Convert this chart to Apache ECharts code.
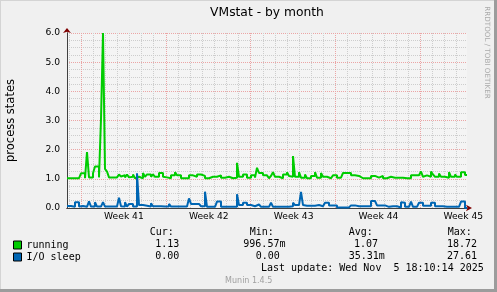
<!DOCTYPE html>
<html><head><meta charset="utf-8">
<script src="https://cdn.jsdelivr.net/npm/echarts@6/dist/echarts.min.js"></script>
<style>html,body{margin:0;padding:0;background:#F0F0F0}#c{width:497px;height:292px}</style>
</head><body><div id="c"></div>
<script>
// ---- data ----
const spanHours = 792; // 33 days shown
const running = [
1.02,1.02,1.02,1.02,1.02,1.02,1.02,1.19,1.19,1.02,
1.92,1.05,1.05,1.19,1.42,1.42,1.05,3.05,6.0,1.34,
1.25,1.05,1.05,1.02,1.05,1.02,1.15,1.08,1.12,1.05,
1.15,1.05,1.07,1.15,1.02,1.07,1.02,1.02,1.2,1.07,
1.15,1.15,1.07,1.15,1.07,1.07,1.2,1.2,1.07,1.05,
1.05,1.02,1.12,1.12,1.23,1.12,1.12,1.02,1.02,1.02,
1.02,1.12,1.12,1.07,1.07,1.15,1.15,1.1,1.1,1.02,
1.02,1.02,1.07,1.07,1.07,1.12,1.12,1.04,1.04,1.04,
1.07,1.04,1.02,1.04,1.04,1.55,1.07,1.07,1.15,1.15,
1.04,1.04,1.12,1.12,1.04,1.38,1.2,1.2,1.12,1.12,
1.15,1.02,1.1,1.23,1.07,1.07,1.02,1.02,1.15,1.15,
1.23,1.1,1.07,1.78,1.07,1.07,1.23,1.04,1.04,1.15,
1.02,1.02,1.1,1.1,1.23,1.04,1.04,1.2,1.07,1.07,
1.02,1.02,1.02,1.12,1.12,1.04,1.04,1.04,1.2,1.2,
1.2,1.2,1.12,1.12,1.1,1.1,1.04,1.02,1.02,1.02,
1.02,1.02,1.1,1.1,1.1,1.04,1.1,1.1,1.02,1.02,
1.02,1.07,1.04,1.04,1.04,1.04,1.04,1.04,1.02,1.02,
1.02,1.02,1.12,1.12,1.12,1.12,1.12,1.25,1.07,1.12,
1.12,1.07,1.25,1.15,1.07,1.07,1.18,1.07,1.07,1.04,
1.04,1.23,1.07,1.07,1.15,1.07,1.07,1.23,1.23,1.13
];
const ioSleep = [
0.07,0.07,0.07,0.04,0.2,0.2,0.05,0.07,0.04,0.04,
0.04,0.23,0.05,0.05,0.2,0.05,0.05,0.05,0.2,0.05,
0.05,0.07,0.05,0.04,0.05,0.06,0.35,0.06,0.05,0.2,
0.05,0.14,0.14,0.05,0.05,1.19,0.1,0.1,0.08,0.08,
0.08,0.05,0.16,0.06,0.06,0.06,0.06,0.06,0.05,0.05,
0.05,0.14,0.05,0.05,0.05,0.05,0.05,0.05,0.05,0.05,
0.06,0.33,0.14,0.14,0.14,0.14,0.18,0.06,0.06,0.56,
0.04,0.04,0.04,0.04,0.04,0.22,0.22,0.04,0.04,0.04,
0.04,0.1,0.04,0.04,0.04,0.47,0.1,0.1,0.18,0.18,
0.1,0.1,0.06,0.06,0.06,0.12,0.12,0.04,0.04,0.04,
0.04,0.04,0.18,0.04,0.04,0.04,0.04,0.04,0.04,0.04,
0.04,0.06,0.06,0.18,0.1,0.1,0.1,0.55,0.1,0.08,
0.1,0.08,0.1,0.08,0.09,0.1,0.08,0.06,0.06,0.18,
0.18,0.09,0.09,0.09,0.09,0.02,0.02,0.02,0.02,0.02,
0.02,0.02,0.09,0.09,0.12,0.06,0.06,0.06,0.06,0.06,
0.06,0.06,0.24,0.24,0.24,0.09,0.09,0.09,0.09,0.04,
0.04,0.04,0.06,0.06,0.06,0.02,0.02,0.2,0.18,0.04,
0.04,0.04,0.22,0.04,0.04,0.04,0.18,0.18,0.08,0.08,
0.08,0.08,0.18,0.18,0.06,0.06,0.06,0.06,0.06,0.04,
0.04,0.04,0.04,0.04,0.04,0.04,0.04,0.22,0.22,0.0
];
const weekLabels = ['Week 41','Week 42','Week 43','Week 44','Week 45'];
const weekStartHours = [27.7, 195.7, 363.7, 531.7, 699.7];
const seriesNames = ['running','I/O sleep'];
const statHeaders = ['Cur:','Min:','Avg:','Max:'];
const runningStats = ['1.13','996.57m','1.07','18.72'];
const ioSleepStats = ['0.00','0.00','35.31m','27.61'];
const lastUpdate = 'Last update: Wed Nov  5 18:10:14 2025';
const titleText = 'VMstat - by month';
const yName = 'process states';
const sideText = 'RRDTOOL / TOBI OETIKER';
const footer = 'Munin 1.4.5';

// ---- build ----
function toXY(arr){
  const slot = spanHours / arr.length;
  const d = arr.map((v,i)=>[i*slot, v]);
  d.push([spanHours, arr[arr.length-1]]);
  return d;
}
const labelHours = weekStartHours.map(h => h + 85);
const dayHours = [];
for (let h = weekStartHours[0] - 24; h < spanHours; h += 24) if (h > 0) dayHours.push(h);

const SANS = 'DejaVu Sans', MONO = 'DejaVu Sans Mono';
const gridMinor = '#CDCDCD', gridMajor = '#EBA5A5';

const chart = echarts.init(document.getElementById('c'), null, {renderer:'canvas'});
const colX = [149.7, 249.7, 348.7, 447.7];
const valX1 = [155.3, 243.3, 354, 447];
const valX2 = [155.3, 255.7, 348.7, 447];
const graphics = [
  {type:'rect', shape:{x:0,y:0,width:497,height:1}, style:{fill:'#D4D4D4'}, silent:true},
  {type:'rect', shape:{x:0,y:0,width:1,height:292}, style:{fill:'#D4D4D4'}, silent:true},
  {type:'rect', shape:{x:494,y:0,width:3,height:292}, style:{fill:'#9C9C9C'}, silent:true},
  {type:'rect', shape:{x:0,y:289,width:497,height:3}, style:{fill:'#9C9C9C'}, silent:true},
  {type:'text', x:267, y:12.5, style:{text:titleText, font:'12.3px "'+SANS+'"', fill:'#000', textAlign:'center', textVerticalAlign:'middle'}},
  {type:'text', x:487, y:52.5, rotation:-Math.PI/2, style:{text:sideText, font:'7.2px "'+SANS+'"', fill:'#AAAAAA', textAlign:'center', textVerticalAlign:'middle'}},
  {type:'text', x:261, y:268.7, style:{text:lastUpdate, font:'10px "'+MONO+'"', fill:'#000', textVerticalAlign:'middle'}},
  {type:'text', x:248.7, y:281.3, style:{text:footer, font:'8px "'+SANS+'"', fill:'#A0A0A0', textAlign:'center', textVerticalAlign:'middle'}}
];
statHeaders.forEach((t,k)=>graphics.push({type:'text', x:colX[k], y:232.3, style:{text:t, font:'10px "'+MONO+'"', fill:'#000', textVerticalAlign:'middle'}}));
runningStats.forEach((t,k)=>graphics.push({type:'text', x:valX1[k], y:244.7, style:{text:t, font:'10px "'+MONO+'"', fill:'#000', textVerticalAlign:'middle'}}));
ioSleepStats.forEach((t,k)=>graphics.push({type:'text', x:valX2[k], y:256.7, style:{text:t, font:'10px "'+MONO+'"', fill:'#000', textVerticalAlign:'middle'}}));

const gridLines = dayHours.map(h=>({xAxis:h, lineStyle:{color:gridMinor, type:[1,1], width:1}}))
  .concat(weekStartHours.map(h=>({xAxis:h, lineStyle:{color:gridMajor, type:[1,1], width:1}})));

chart.setOption({
  animation:false,
  backgroundColor:'#F0F0F0',
  grid:{left:67, right:30, top:33, bottom:84, show:true, backgroundColor:'#F4F4F4', borderWidth:0,
        containLabel:false, outerBoundsMode:'none'},
  xAxis:[
    {type:'value', min:0, max:spanHours, z:3,
     axisLine:{show:true, lineStyle:{color:'#404040', width:1}},
     axisTick:{show:false}, splitLine:{show:false},
     axisLabel:{customValues:labelHours, margin:4, fontFamily:SANS, fontSize:9.2, color:'#000',
       formatter:v=>{const k=labelHours.findIndex(h=>Math.abs(h-v)<1); return k>=0?weekLabels[k]:'';}}},
    {type:'value', min:0, max:spanHours, position:'bottom', z:2,
     axisLine:{show:true, symbol:['none','arrow'], symbolSize:[5,6], symbolOffset:[0,5], lineStyle:{color:'#7F0000', width:1}},
     axisTick:{show:false}, axisLabel:{show:false}, splitLine:{show:false}}
  ],
  yAxis:[
    {type:'value', min:0, max:6, interval:1, z:3, position:'left',
     name:yName, nameLocation:'middle', nameGap:50, nameRotate:90,
     nameTextStyle:{fontFamily:SANS, fontSize:11.5, color:'#000'},
     axisLine:{show:true, lineStyle:{color:'#404040', width:1}},
     axisTick:{show:false},
     axisLabel:{formatter:v=>v.toFixed(1), margin:7, fontFamily:SANS, fontSize:9.2, color:'#000'},
     splitLine:{show:true, lineStyle:{color:gridMajor, type:[1,1], width:1}},
     minorTick:{show:false, splitNumber:4},
     minorSplitLine:{show:true, lineStyle:{color:gridMinor, type:[1,1], width:1}}},
    {type:'value', min:0, max:6, interval:1, z:2, position:'left', offset:0,
     axisLine:{show:true, symbol:['none','arrow'], symbolSize:[6,5], symbolOffset:[0,5], lineStyle:{color:'#7F0000', width:1}},
     axisTick:{show:false}, axisLabel:{show:false}, splitLine:{show:false}}
  ],
  legend:{orient:'vertical', left:13, top:240, padding:0, itemWidth:8, itemHeight:8, itemGap:2, icon:'rect',
    itemStyle:{borderColor:'#000', borderWidth:1},
    textStyle:{fontFamily:MONO, fontSize:10, color:'#000'}, data:seriesNames, selectedMode:false},
  graphic:graphics,
  series:[
    {type:'line', name:'_grid', data:[], z:1, silent:true,
     markLine:{silent:true, symbol:['none','none'], label:{show:false}, animation:false, data:gridLines}},
    {type:'line', name:seriesNames[0], data:toXY(running), step:'end', symbol:'none', showSymbol:false, z:5,
     color:'#00CC00', lineStyle:{width:2, color:'#00CC00'}},
    {type:'line', name:seriesNames[1], data:toXY(ioSleep), step:'end', symbol:'none', showSymbol:false, z:6,
     color:'#0066B3', lineStyle:{width:2, color:'#0066B3'}}
  ]
});
</script></body></html>
